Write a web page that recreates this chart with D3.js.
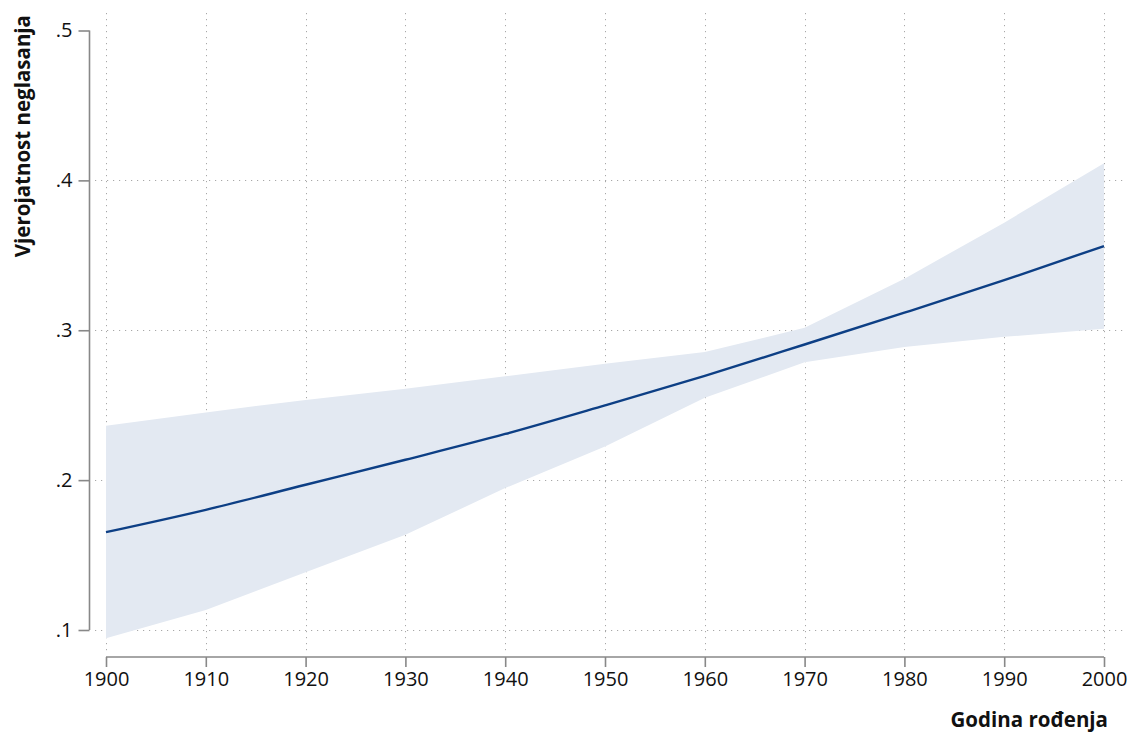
<!DOCTYPE html>
<html>
<head>
<meta charset="utf-8">
<script src="https://cdn.jsdelivr.net/npm/d3@7"></script>
<style>
  html, body { margin: 0; padding: 0; background: #fff; }
  svg { display: block; }
  text { font-family: "Open Sans", "Noto Sans", sans-serif; fill: #111; }
</style>
</head>
<body>
<svg id="chart" width="1129" height="734"></svg>
<script>
// ---- data ----
const years = [1900, 1910, 1920, 1930, 1940, 1950, 1960, 1970, 1980, 1990, 2000];
const predicted = [0.1653, 0.1802, 0.1969, 0.2136, 0.2308, 0.2499, 0.2696, 0.2905, 0.3117, 0.3334, 0.3562];
const upperCI = [0.2363, 0.2452, 0.2535, 0.2609, 0.2693, 0.2776, 0.2855, 0.3016, 0.3344, 0.3718, 0.4114];
const lowerCI = [0.0945, 0.1134, 0.1386, 0.1635, 0.1947, 0.2225, 0.2549, 0.2787, 0.2889, 0.2956, 0.3010];
const xTicks = [1900, 1910, 1920, 1930, 1940, 1950, 1960, 1970, 1980, 1990, 2000];
const yTicks = [0.1, 0.2, 0.3, 0.4, 0.5];
const yGrid = [0.1, 0.2, 0.3, 0.4];
const yTickLabels = [".1", ".2", ".3", ".4", ".5"];
const xTitle = "Godina rođenja";
const yTitle = "Vjerojatnost neglasanja";

// ---- layout ----
const svg = d3.select("#chart");
const x = d3.scaleLinear().domain([1900, 2000]).range([106, 1104]);
const y = d3.scaleLinear().domain([0.1, 0.5]).range([630, 30.5]);
const rows = years.map((yr, i) => ({ yr, p: predicted[i], lo: lowerCI[i], hi: upperCI[i] }));

// grid
const grid = svg.append("g").attr("stroke", "#a8a8a8").attr("stroke-width", 1)
  .attr("stroke-dasharray", "1.2,4.8").attr("fill", "none");
grid.selectAll("line.v").data(xTicks).join("line")
  .attr("x1", d => Math.round(x(d)) + 0.5).attr("x2", d => Math.round(x(d)) + 0.5)
  .attr("y1", 13).attr("y2", 651);
grid.selectAll("line.h").data(yGrid).join("line")
  .attr("x1", 95).attr("x2", 1123)
  .attr("y1", d => Math.round(y(d)) + 0.5).attr("y2", d => Math.round(y(d)) + 0.5);

// CI band
const area = d3.area().x(d => x(d.yr)).y0(d => y(d.lo)).y1(d => y(d.hi));
svg.append("path").datum(rows).attr("d", area).attr("fill", "#e3e9f2");

// prediction line
const line = d3.line().x(d => x(d.yr)).y(d => y(d.p)).curve(d3.curveMonotoneX);
svg.append("path").datum(rows).attr("d", line)
  .attr("fill", "none").attr("stroke", "#0d3f85").attr("stroke-width", 2.4);

// y axis
const yAxis = d3.axisLeft(y).tickValues(yTicks).tickSize(11).tickPadding(6)
  .tickFormat((d, i) => yTickLabels[i]);
const gy = svg.append("g").attr("transform", "translate(89.5,0)").call(yAxis);
gy.select(".domain").attr("stroke", "#888").attr("stroke-width", 1.6).attr("d", `M0,${y(0.5)}V${y(0.1)}`);
gy.selectAll(".tick line").attr("stroke", "#888").attr("stroke-width", 1.6);
gy.selectAll(".tick text").attr("font-size", 20).attr("font-family", "Open Sans").attr("fill", "#111");

// x axis
const xAxis = d3.axisBottom(x).tickValues(xTicks).tickSize(10).tickPadding(5)
  .tickFormat(d3.format("d"));
const gx = svg.append("g").attr("transform", "translate(0,657)").call(xAxis);
gx.select(".domain").attr("stroke", "#888").attr("stroke-width", 1.6).attr("d", `M${x(1900)},0H${x(2000)}`);
gx.selectAll(".tick line").attr("stroke", "#888").attr("stroke-width", 1.6);
gx.selectAll(".tick text").attr("font-size", 20).attr("font-family", "Open Sans").attr("fill", "#111");

// titles
svg.append("text").attr("x", 1108).attr("y", 727).attr("text-anchor", "end")
  .attr("font-size", 20.5).attr("font-weight", "bold").text(xTitle);
svg.append("text").attr("transform", "translate(30,15) rotate(-90)").attr("text-anchor", "end")
  .attr("font-size", 20.5).attr("font-weight", "bold").text(yTitle);
</script>
</body>
</html>
